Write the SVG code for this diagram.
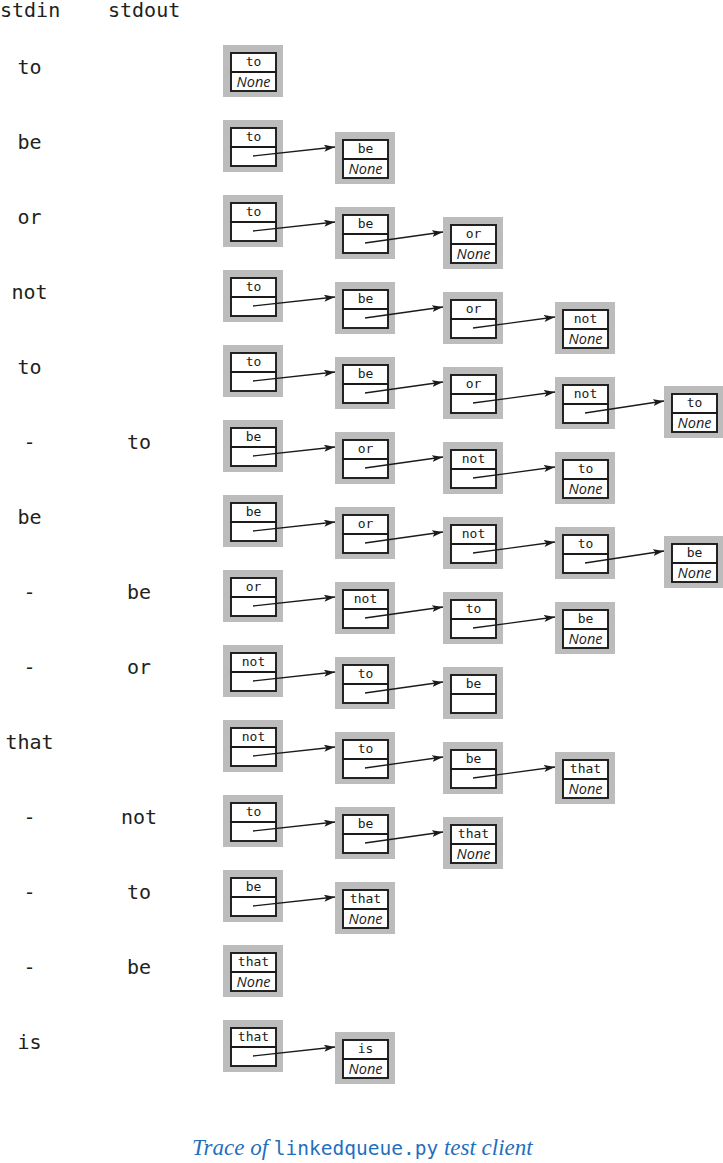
<svg xmlns="http://www.w3.org/2000/svg" width="723" height="1163" viewBox="0 0 723 1163">
<style>
.o{fill:#bcbcbc;stroke:none}
.i{fill:#fff;stroke:#1a1a1a;stroke-width:1.9}
.d{stroke:#1a1a1a;stroke-width:1.9}
.v{font-family:"DejaVu Sans Mono","Liberation Mono",monospace;font-size:13px;fill:#1a1a1a;text-anchor:middle}
.nn{font-family:"Open Sans","Liberation Sans",sans-serif;font-style:italic;font-size:14.5px;fill:#1a1a1a;text-anchor:middle}
.lab{font-family:"DejaVu Sans Mono","Liberation Mono",monospace;font-size:20px;fill:#231f20;text-anchor:middle}
.hdr{font-family:"DejaVu Sans Mono","Liberation Mono",monospace;font-size:20px;fill:#231f20}
.a{stroke:#1a1a1a;stroke-width:1.3;fill:none;marker-end:url(#ah)}
.cap{font-family:"Liberation Serif",serif;font-style:italic;font-size:23px;fill:#1f6fbf}
.capm{font-family:"DejaVu Sans Mono","Liberation Mono",monospace;font-style:normal;font-size:19.5px}
</style>
<defs>
<marker id="ah" markerUnits="userSpaceOnUse" markerWidth="12" markerHeight="8" refX="11" refY="3.5" orient="auto">
<path d="M0,0 L11,3.5 L0,7 L2.5,3.5 z" fill="#1a1a1a"/>
</marker>
<g id="top"><rect class="o" width="60" height="52"/><rect class="i" x="8" y="8" width="45" height="38"/><line class="d" x1="7" y1="27" x2="54" y2="27"/></g>
</defs>

<g id="headers">
<text class="hdr" x="0" y="17">stdin</text>
<text class="hdr" x="108" y="17">stdout</text>
</g>

<g id="stdin">
<text class="lab" x="29.5" y="73.5">to</text>
<text class="lab" x="29.5" y="148.5">be</text>
<text class="lab" x="29.5" y="223.5">or</text>
<text class="lab" x="29.5" y="298.5">not</text>
<text class="lab" x="29.5" y="373.5">to</text>
<text class="lab" x="29.5" y="448.5">-</text>
<text class="lab" x="29.5" y="523.5">be</text>
<text class="lab" x="29.5" y="598.5">-</text>
<text class="lab" x="29.5" y="673.5">-</text>
<text class="lab" x="29.5" y="748.5">that</text>
<text class="lab" x="29.5" y="823.5">-</text>
<text class="lab" x="29.5" y="898.5">-</text>
<text class="lab" x="29.5" y="973.5">-</text>
<text class="lab" x="29.5" y="1048.5">is</text>
</g>

<g id="stdout">
<text class="lab" x="139" y="448.5">to</text>
<text class="lab" x="139" y="598.5">be</text>
<text class="lab" x="139" y="673.5">or</text>
<text class="lab" x="139" y="823.5">not</text>
<text class="lab" x="139" y="898.5">to</text>
<text class="lab" x="139" y="973.5">be</text>
</g>

<!-- row 0 -->
<g id="r0c0" transform="translate(223,45)"><use href="#top"/><text class="v" x="30.5" y="21">to</text><text class="nn" x="30.5" y="41.5">None</text></g>
<!-- row 1 -->
<g id="r1c0" transform="translate(223,120)"><use href="#top"/><text class="v" x="30.5" y="21">to</text></g>
<g id="r1c1" transform="translate(335,132)"><use href="#top"/><text class="v" x="30.5" y="21">be</text><text class="nn" x="30.5" y="41.5">None</text></g>
<!-- row 2 -->
<g id="r2c0" transform="translate(223,195)"><use href="#top"/><text class="v" x="30.5" y="21">to</text></g>
<g id="r2c1" transform="translate(335,207)"><use href="#top"/><text class="v" x="30.5" y="21">be</text></g>
<g id="r2c2" transform="translate(443,217)"><use href="#top"/><text class="v" x="30.5" y="21">or</text><text class="nn" x="30.5" y="41.5">None</text></g>
<!-- row 3 -->
<g id="r3c0" transform="translate(223,270)"><use href="#top"/><text class="v" x="30.5" y="21">to</text></g>
<g id="r3c1" transform="translate(335,282)"><use href="#top"/><text class="v" x="30.5" y="21">be</text></g>
<g id="r3c2" transform="translate(443,292)"><use href="#top"/><text class="v" x="30.5" y="21">or</text></g>
<g id="r3c3" transform="translate(555,302)"><use href="#top"/><text class="v" x="30.5" y="21">not</text><text class="nn" x="30.5" y="41.5">None</text></g>
<!-- row 4 -->
<g id="r4c0" transform="translate(223,345)"><use href="#top"/><text class="v" x="30.5" y="21">to</text></g>
<g id="r4c1" transform="translate(335,357)"><use href="#top"/><text class="v" x="30.5" y="21">be</text></g>
<g id="r4c2" transform="translate(443,367)"><use href="#top"/><text class="v" x="30.5" y="21">or</text></g>
<g id="r4c3" transform="translate(555,377)"><use href="#top"/><text class="v" x="30.5" y="21">not</text></g>
<g id="r4c4" transform="translate(664,386)"><use href="#top"/><text class="v" x="30.5" y="21">to</text><text class="nn" x="30.5" y="41.5">None</text></g>
<!-- row 5 -->
<g id="r5c0" transform="translate(223,420)"><use href="#top"/><text class="v" x="30.5" y="21">be</text></g>
<g id="r5c1" transform="translate(335,432)"><use href="#top"/><text class="v" x="30.5" y="21">or</text></g>
<g id="r5c2" transform="translate(443,442)"><use href="#top"/><text class="v" x="30.5" y="21">not</text></g>
<g id="r5c3" transform="translate(555,452)"><use href="#top"/><text class="v" x="30.5" y="21">to</text><text class="nn" x="30.5" y="41.5">None</text></g>
<!-- row 6 -->
<g id="r6c0" transform="translate(223,495)"><use href="#top"/><text class="v" x="30.5" y="21">be</text></g>
<g id="r6c1" transform="translate(335,507)"><use href="#top"/><text class="v" x="30.5" y="21">or</text></g>
<g id="r6c2" transform="translate(443,517)"><use href="#top"/><text class="v" x="30.5" y="21">not</text></g>
<g id="r6c3" transform="translate(555,527)"><use href="#top"/><text class="v" x="30.5" y="21">to</text></g>
<g id="r6c4" transform="translate(664,536)"><use href="#top"/><text class="v" x="30.5" y="21">be</text><text class="nn" x="30.5" y="41.5">None</text></g>
<!-- row 7 -->
<g id="r7c0" transform="translate(223,570)"><use href="#top"/><text class="v" x="30.5" y="21">or</text></g>
<g id="r7c1" transform="translate(335,582)"><use href="#top"/><text class="v" x="30.5" y="21">not</text></g>
<g id="r7c2" transform="translate(443,592)"><use href="#top"/><text class="v" x="30.5" y="21">to</text></g>
<g id="r7c3" transform="translate(555,602)"><use href="#top"/><text class="v" x="30.5" y="21">be</text><text class="nn" x="30.5" y="41.5">None</text></g>
<!-- row 8 -->
<g id="r8c0" transform="translate(223,645)"><use href="#top"/><text class="v" x="30.5" y="21">not</text></g>
<g id="r8c1" transform="translate(335,657)"><use href="#top"/><text class="v" x="30.5" y="21">to</text></g>
<g id="r8c2" transform="translate(443,667)"><use href="#top"/><text class="v" x="30.5" y="21">be</text></g>
<!-- row 9 -->
<g id="r9c0" transform="translate(223,720)"><use href="#top"/><text class="v" x="30.5" y="21">not</text></g>
<g id="r9c1" transform="translate(335,732)"><use href="#top"/><text class="v" x="30.5" y="21">to</text></g>
<g id="r9c2" transform="translate(443,742)"><use href="#top"/><text class="v" x="30.5" y="21">be</text></g>
<g id="r9c3" transform="translate(555,752)"><use href="#top"/><text class="v" x="30.5" y="21">that</text><text class="nn" x="30.5" y="41.5">None</text></g>
<!-- row 10 -->
<g id="r10c0" transform="translate(223,795)"><use href="#top"/><text class="v" x="30.5" y="21">to</text></g>
<g id="r10c1" transform="translate(335,807)"><use href="#top"/><text class="v" x="30.5" y="21">be</text></g>
<g id="r10c2" transform="translate(443,817)"><use href="#top"/><text class="v" x="30.5" y="21">that</text><text class="nn" x="30.5" y="41.5">None</text></g>
<!-- row 11 -->
<g id="r11c0" transform="translate(223,870)"><use href="#top"/><text class="v" x="30.5" y="21">be</text></g>
<g id="r11c1" transform="translate(335,882)"><use href="#top"/><text class="v" x="30.5" y="21">that</text><text class="nn" x="30.5" y="41.5">None</text></g>
<!-- row 12 -->
<g id="r12c0" transform="translate(223,945)"><use href="#top"/><text class="v" x="30.5" y="21">that</text><text class="nn" x="30.5" y="41.5">None</text></g>
<!-- row 13 -->
<g id="r13c0" transform="translate(223,1020)"><use href="#top"/><text class="v" x="30.5" y="21">that</text></g>
<g id="r13c1" transform="translate(335,1032)"><use href="#top"/><text class="v" x="30.5" y="21">is</text><text class="nn" x="30.5" y="41.5">None</text></g>

<g id="connectors">
<line class="a" x1="253" y1="156" x2="335" y2="147"/>
<line class="a" x1="253" y1="231" x2="335" y2="222"/>
<line class="a" x1="365" y1="243" x2="443" y2="232"/>
<line class="a" x1="253" y1="306" x2="335" y2="297"/>
<line class="a" x1="365" y1="318" x2="443" y2="307"/>
<line class="a" x1="473" y1="328" x2="555" y2="317"/>
<line class="a" x1="253" y1="381" x2="335" y2="372"/>
<line class="a" x1="365" y1="393" x2="443" y2="382"/>
<line class="a" x1="473" y1="403" x2="555" y2="392"/>
<line class="a" x1="585" y1="413" x2="664" y2="401"/>
<line class="a" x1="253" y1="456" x2="335" y2="447"/>
<line class="a" x1="365" y1="468" x2="443" y2="457"/>
<line class="a" x1="473" y1="478" x2="555" y2="467"/>
<line class="a" x1="253" y1="531" x2="335" y2="522"/>
<line class="a" x1="365" y1="543" x2="443" y2="532"/>
<line class="a" x1="473" y1="553" x2="555" y2="542"/>
<line class="a" x1="585" y1="563" x2="664" y2="551"/>
<line class="a" x1="253" y1="606" x2="335" y2="597"/>
<line class="a" x1="365" y1="618" x2="443" y2="607"/>
<line class="a" x1="473" y1="628" x2="555" y2="617"/>
<line class="a" x1="253" y1="681" x2="335" y2="672"/>
<line class="a" x1="365" y1="693" x2="443" y2="682"/>
<line class="a" x1="253" y1="756" x2="335" y2="747"/>
<line class="a" x1="365" y1="768" x2="443" y2="757"/>
<line class="a" x1="473" y1="778" x2="555" y2="767"/>
<line class="a" x1="253" y1="831" x2="335" y2="822"/>
<line class="a" x1="365" y1="843" x2="443" y2="832"/>
<line class="a" x1="253" y1="906" x2="335" y2="897"/>
<line class="a" x1="253" y1="1056" x2="335" y2="1047"/>
</g>

<g id="caption">
<text class="cap" x="192" y="1155">Trace of <tspan class="capm">linkedqueue.py</tspan> test client</text>
</g>
</svg>
